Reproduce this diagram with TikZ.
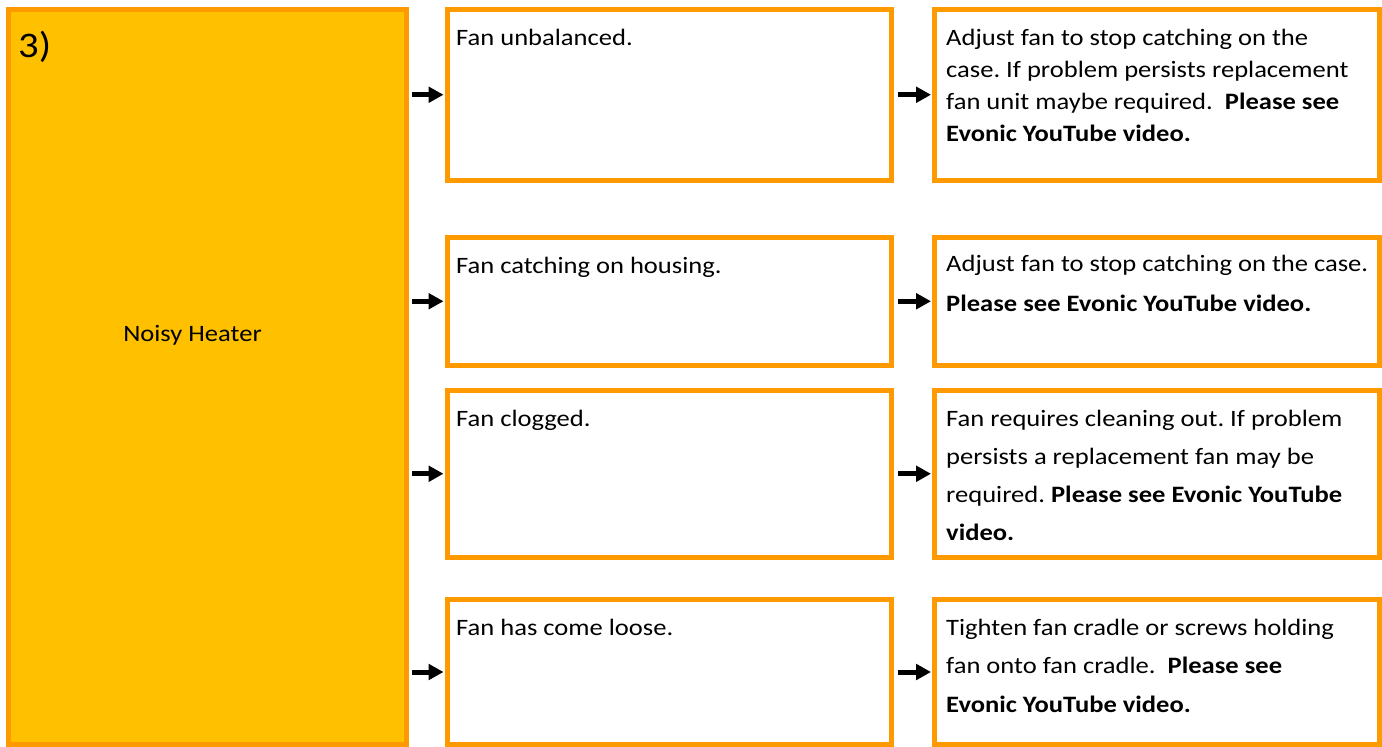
\documentclass[tikz,border=0pt]{standalone}
\usepackage{fontspec}
\setmainfont{Carlito}[FakeStretch=1.13]
\usetikzlibrary{arrows.meta,positioning,calc}
\frenchspacing

\definecolor{boxline}{RGB}{255,153,0}
\definecolor{heaterfill}{RGB}{255,192,0}

\tikzset{
  box/.style={draw=boxline, line width=5pt, fill=white, outer sep=0pt, inner sep=0pt, anchor=north west},
  txt/.style={anchor=base west, inner sep=0pt, font=\fontsize{23.5}{28}\selectfont},
  arr/.style={line width=5pt, -{Triangle[length=15pt,width=15.5pt]}},
}

% text block with its own line spacing
\newcommand{\boxtext}[2]{\parbox[t]{430pt}{\raggedright\fontsize{23.5}{#1}\selectfont #2}}

\begin{document}
\begin{tikzpicture}[x=1pt,y=-1pt]
\useasboundingbox (0,0) rectangle (1382,747);

% fault block
\node[box, fill=heaterfill, minimum width=398pt, minimum height=735.5pt] (noisy) at (8,9) {};
\node[txt, font=\fontsize{36}{40}\selectfont] (num) at (18,57) {3)};
\node[txt, anchor=base] (heater) at (192.5,341.5) {Noisy Heater};

% causes
\node[box, minimum width=444pt, minimum height=170.5pt] (cause1) at (447,9.5) {};
\node[box, minimum width=444pt, minimum height=128.5pt] (cause2) at (447,237) {};
\node[box, minimum width=444pt, minimum height=166.5pt] (cause3) at (447,390.5) {};
\node[box, minimum width=444pt, minimum height=145pt] (cause4) at (447,599.5) {};
\node[txt] (cause1t) at ($(cause1.north west)+(9,35.5)$) {Fan unbalanced.};
\node[txt] (cause2t) at ($(cause2.north west)+(9,36)$) {Fan catching on housing.};
\node[txt] (cause3t) at ($(cause3.north west)+(9,35.5)$) {Fan clogged.};
\node[txt] (cause4t) at ($(cause4.north west)+(9,35.5)$) {Fan has come loose.};

% fixes
\node[box, minimum width=445pt, minimum height=170.5pt] (fix1) at (934.5,9.5) {};
\node[box, minimum width=445pt, minimum height=128.5pt] (fix2) at (934.5,237) {};
\node[box, minimum width=445pt, minimum height=166.5pt] (fix3) at (934.5,390.5) {};
\node[box, minimum width=445pt, minimum height=145pt] (fix4) at (934.5,599.5) {};
\node[txt] (fix1t) at ($(fix1.north west)+(11.5,35.5)$) {\boxtext{32pt}{Adjust fan to stop catching on the\\
  case. If problem persists replacement\\
  fan unit maybe required.\ \ \textbf{Please see}\\
  \textbf{Evonic YouTube video.}}};
\node[txt] (fix2t) at ($(fix2.north west)+(11.5,34.5)$) {\boxtext{40pt}{Adjust fan to stop catching on the case.\\
  \textbf{Please see Evonic YouTube video.}}};
\node[txt] (fix3t) at ($(fix3.north west)+(11.5,35.5)$) {\boxtext{38pt}{Fan requires cleaning out. If problem\\
  persists a replacement fan may be\\
  required. \textbf{Please see Evonic YouTube}\\
  \textbf{video.}}};
\node[txt] (fix4t) at ($(fix4.north west)+(11.5,35.5)$) {\boxtext{38.5pt}{Tighten fan cradle or screws holding\\
  fan onto fan cradle.\ \ \textbf{Please see}\\
  \textbf{Evonic YouTube video.}}};

% arrows
\foreach \i in {1,...,4}{
  \draw[arr, shorten <=6pt, shorten >=3.5pt] (noisy.east |- cause\i.west) -- (cause\i.west);
  \draw[arr, shorten <=7pt, shorten >=3.5pt] (cause\i.east) -- (fix\i.west);
}
\end{tikzpicture}
\end{document}
